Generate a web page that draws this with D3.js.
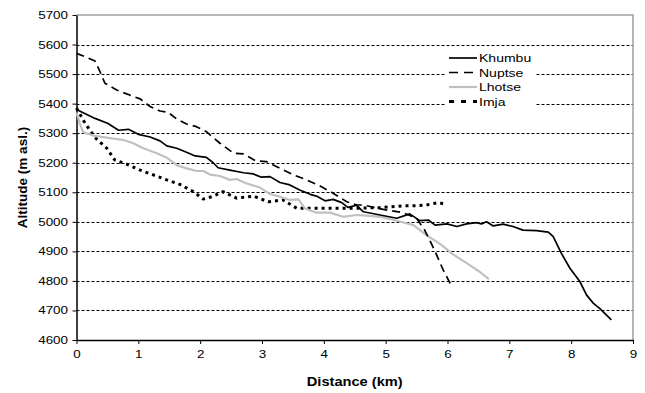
<!DOCTYPE html>
<html>
<head>
<meta charset="utf-8">
<script src="https://cdn.jsdelivr.net/npm/d3@7"></script>
<style>
  body { margin: 0; background: #fff; }
  text { font-family: "Liberation Sans", Arial, sans-serif; fill: #000; }
</style>
</head>
<body>
<div id="area"></div>
<script>
// glacier long profiles: distance (km) and altitude (m asl.)
var khumbuKm = [0, 0.3, 0.51, 0.68, 0.84, 1.0, 1.19, 1.35, 1.46, 1.62, 1.76, 1.92, 2.1, 2.21, 2.29, 2.48, 2.7, 2.86, 2.99, 3.13, 3.29, 3.45, 3.61, 3.78, 3.88, 4.02, 4.15, 4.29, 4.39, 4.53, 4.64, 4.91, 5.18, 5.39, 5.55, 5.69, 5.8, 5.99, 6.15, 6.31, 6.47, 6.55, 6.63, 6.74, 6.9, 7.06, 7.22, 7.44, 7.63, 7.71, 7.84, 7.98, 8.14, 8.25, 8.36, 8.46, 8.65];
var khumbuAlt = [5380, 5350, 5333, 5310, 5313, 5296, 5287, 5274, 5257, 5249, 5237, 5223, 5218, 5200, 5183, 5175, 5166, 5162, 5151, 5153, 5133, 5125, 5108, 5093, 5087, 5071, 5076, 5065, 5049, 5056, 5034, 5023, 5012, 5027, 5004, 5006, 4989, 4993, 4984, 4993, 4997, 4993, 5000, 4986, 4992, 4984, 4972, 4970, 4965, 4950, 4894, 4843, 4798, 4752, 4724, 4707, 4668];

var nuptseKm = [0, 0.14, 0.3, 0.38, 0.46, 0.65, 0.86, 1.03, 1.19, 1.35, 1.48, 1.62, 1.78, 1.94, 2.1, 2.32, 2.54, 2.7, 2.89, 3.07, 3.29, 3.51, 3.72, 3.94, 4.15, 4.37, 4.53, 4.64, 4.96, 5.28, 5.5, 5.63, 5.72, 5.82, 5.93, 6.07];
var nuptseAlt = [5570, 5559, 5544, 5508, 5469, 5446, 5429, 5416, 5390, 5375, 5371, 5348, 5331, 5322, 5305, 5266, 5232, 5230, 5207, 5204, 5181, 5159, 5142, 5121, 5097, 5068, 5057, 5057, 5042, 5031, 5012, 4972, 4935, 4890, 4837, 4781];

var lhotseKm = [0, 0.06, 0.11, 0.27, 0.54, 0.76, 0.92, 1.08, 1.3, 1.46, 1.62, 1.78, 1.94, 2.05, 2.16, 2.32, 2.48, 2.59, 2.75, 2.97, 3.13, 3.29, 3.45, 3.59, 3.69, 3.88, 4.1, 4.31, 4.53, 4.64, 4.91, 5.23, 5.45, 5.66, 5.88, 6.09, 6.31, 6.52, 6.67];
var lhotseAlt = [5370, 5328, 5303, 5292, 5283, 5277, 5266, 5249, 5232, 5217, 5192, 5181, 5172, 5172, 5160, 5155, 5142, 5145, 5130, 5116, 5094, 5085, 5074, 5076, 5046, 5031, 5031, 5017, 5023, 5022, 5017, 5001, 4989, 4955, 4925, 4890, 4860, 4831, 4806];

var imjaKm = [0, 0.14, 0.3, 0.49, 0.62, 0.81, 1.03, 1.24, 1.46, 1.67, 1.89, 2.05, 2.19, 2.37, 2.59, 2.86, 3.1, 3.34, 3.56, 3.88, 4.21, 4.53, 4.9, 5.28, 5.5, 5.66, 5.85, 5.96];
var imjaAlt = [5385, 5333, 5285, 5249, 5209, 5195, 5175, 5159, 5142, 5127, 5102, 5077, 5085, 5102, 5080, 5087, 5068, 5074, 5046, 5046, 5046, 5046, 5048, 5054, 5054, 5057, 5065, 5060];

var seriesNames = ["Khumbu", "Nuptse", "Lhotse", "Imja"];
var xTicks = [0, 1, 2, 3, 4, 5, 6, 7, 8, 9];
var yTicks = [4600, 4700, 4800, 4900, 5000, 5100, 5200, 5300, 5400, 5500, 5600, 5700];

var margin = { top: 15, right: 12, bottom: 53, left: 76.5 },
  width = 645 - margin.left - margin.right,
  height = 393 - margin.top - margin.bottom;

var stretch = 1.22; // text in the source is drawn a bit wide

var svg = d3.select("#area")
  .append("svg")
  .attr("width", 645)
  .attr("height", 393);

var g = svg.append("g")
  .attr("transform", "translate(" + margin.left + "," + margin.top + ")");

var xScale = d3.scaleLinear().domain([0, 9]).range([0, width]);
var yScale = d3.scaleLinear().domain([4600, 5700]).range([height, 0]);

// gridlines
g.append("g")
  .selectAll("line")
  .data(yTicks.slice(1, -1))
  .enter()
  .append("line")
  .attr("x1", 0)
  .attr("x2", width)
  .attr("y1", function (d) { return Math.round(yScale(d)) + 0.5; })
  .attr("y2", function (d) { return Math.round(yScale(d)) + 0.5; })
  .style("stroke", "#000")
  .style("stroke-width", 1)
  .style("stroke-dasharray", "3,2");

// plot area border (grey, top and right)
g.append("path")
  .attr("d", "M0," + yScale(5700) + "H" + width + "V" + height)
  .style("fill", "none")
  .style("stroke", "#a0a0a0")
  .style("stroke-width", 1.5);

// axes
var xAxis = g.append("g")
  .attr("transform", "translate(0," + height + ")")
  .call(d3.axisBottom(xScale).tickValues(xTicks).tickSize(4).tickSizeOuter(0).tickFormat(d3.format("d")));
xAxis.selectAll("text")
  .attr("y", 10)
  .attr("transform", "scale(" + stretch + ",1)")
  .style("font-size", "11px");

var yAxis = g.append("g")
  .call(d3.axisLeft(yScale).tickValues(yTicks).tickSize(4).tickSizeOuter(0).tickFormat(d3.format("d")));
yAxis.selectAll("text")
  .attr("x", -8.5 / stretch)
  .attr("transform", "scale(" + stretch + ",1)")
  .style("font-size", "11px");

[xAxis, yAxis].forEach(function (ax) {
  ax.select(".domain").style("stroke", "#000").style("stroke-width", 1.5);
  ax.selectAll(".tick line").style("stroke", "#000");
});

// lines
var line = d3.line()
  .x(function (d) { return xScale(d[0]); })
  .y(function (d) { return yScale(d[1]); });

var styles = [
  { color: "#000", width: 1.7, dash: null },
  { color: "#000", width: 1.7, dash: "8,5" },
  { color: "#c0c0c0", width: 2.2, dash: null },
  { color: "#000", width: 3, dash: "3,4" }
];

var series = [
  d3.zip(khumbuKm, khumbuAlt),
  d3.zip(nuptseKm, nuptseAlt),
  d3.zip(lhotseKm, lhotseAlt),
  d3.zip(imjaKm, imjaAlt)
];

// draw Imja first, Khumbu last on top
[3, 2, 1, 0].forEach(function (i) {
  g.append("path")
    .datum(series[i])
    .attr("d", line)
    .style("fill", "none")
    .style("stroke", styles[i].color)
    .style("stroke-width", styles[i].width)
    .style("stroke-dasharray", styles[i].dash)
    .style("stroke-linejoin", "round");
});

// legend
var legend = svg.append("g").attr("transform", "translate(445,50)");
legend.append("rect")
  .attr("width", 90)
  .attr("height", 58)
  .style("fill", "#fff");

var item = legend.selectAll(".item")
  .data(seriesNames)
  .enter()
  .append("g")
  .attr("transform", function (d, i) { return "translate(0," + (8 + i * 14.5) + ")"; });

item.append("line")
  .attr("x1", 4)
  .attr("x2", 32)
  .style("stroke", function (d, i) { return styles[i].color; })
  .style("stroke-width", function (d, i) { return styles[i].width; })
  .style("stroke-dasharray", function (d, i) { return i == 1 ? "9,6" : (i == 3 ? "5,7" : null); });

item.append("text")
  .attr("x", 34 / stretch)
  .attr("dy", "0.35em")
  .attr("transform", "scale(" + stretch + ",1)")
  .style("font-size", "11.5px")
  .text(function (d) { return d; });

// axis titles
svg.append("text")
  .attr("transform", "translate(" + (margin.left + xScale(4.5)) + ",386) scale(" + stretch + ",1)")
  .attr("text-anchor", "middle")
  .style("font-size", "12px")
  .style("font-weight", "bold")
  .text("Distance (km)");

svg.append("text")
  .attr("transform", "translate(27," + (margin.top + height / 2) + ") rotate(-90)")
  .attr("text-anchor", "middle")
  .style("font-size", "13.5px")
  .style("font-weight", "bold")
  .text("Altitude (m asl.)");
</script>
</body>
</html>
